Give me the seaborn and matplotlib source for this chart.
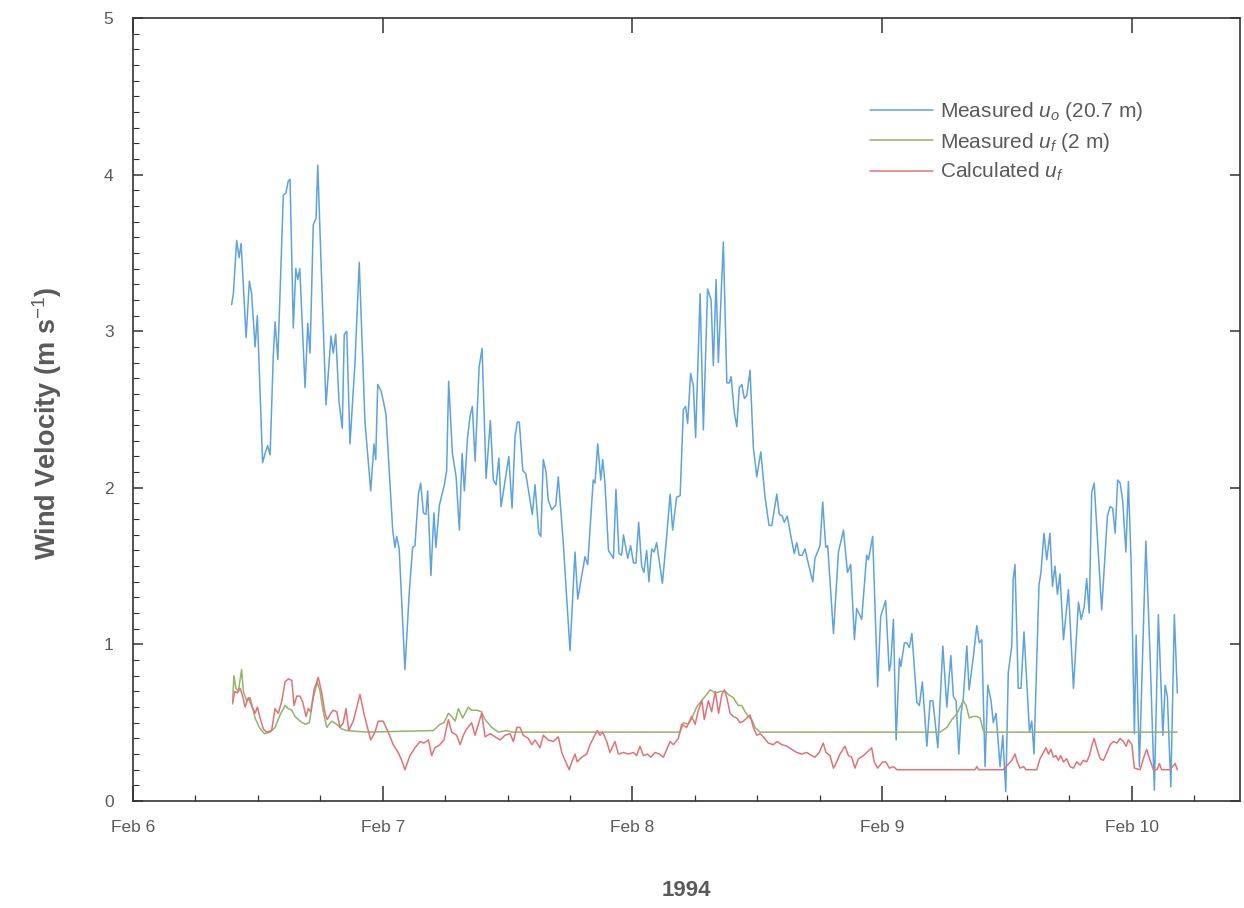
import numpy as np
import pandas as pd
import matplotlib
matplotlib.use("Agg")
import matplotlib.pyplot as plt
import matplotlib.dates as mdates
from matplotlib.ticker import MultipleLocator
from matplotlib.lines import Line2D
import seaborn as sns

# ---------------- data (day of February 1994, value in m/s) ----------------
uo_day = [6.395, 6.402, 6.415, 6.425, 6.433, 6.453, 6.466, 6.475, 6.489, 6.498,
          6.519, 6.529, 6.539, 6.549, 6.562, 6.569, 6.580, 6.602, 6.612, 6.622,
          6.629, 6.642, 6.652, 6.660, 6.668, 6.689, 6.700, 6.709, 6.722, 6.733,
          6.740, 6.756, 6.773, 6.793, 6.802, 6.812, 6.825, 6.838, 6.846, 6.856,
          6.869, 6.889, 6.906, 6.929, 6.952, 6.965, 6.972, 6.980, 6.993, 7.003,
          7.013, 7.040, 7.049, 7.056, 7.066, 7.089, 7.107, 7.120, 7.129, 7.143,
          7.152, 7.163, 7.173, 7.180, 7.193, 7.205, 7.213, 7.227, 7.247, 7.256,
          7.264, 7.279, 7.294, 7.307, 7.318, 7.327, 7.339, 7.350, 7.359, 7.370,
          7.386, 7.398, 7.414, 7.431, 7.443, 7.454, 7.465, 7.474, 7.505, 7.518,
          7.530, 7.539, 7.547, 7.561, 7.573, 7.599, 7.610, 7.625, 7.633, 7.643,
          7.654, 7.663, 7.677, 7.693, 7.703, 7.723, 7.750, 7.770, 7.781, 7.797,
          7.810, 7.821, 7.843, 7.850, 7.861, 7.873, 7.881, 7.890, 7.904, 7.924,
          7.934, 7.946, 7.957, 7.964, 7.981, 7.993, 8.004, 8.014, 8.025, 8.037,
          8.046, 8.057, 8.066, 8.077, 8.087, 8.097, 8.120, 8.137, 8.151, 8.161,
          8.177, 8.191, 8.204, 8.213, 8.221, 8.233, 8.244, 8.253, 8.271, 8.284,
          8.301, 8.315, 8.324, 8.335, 8.344, 8.364, 8.378, 8.388, 8.395, 8.408,
          8.418, 8.428, 8.438, 8.448, 8.458, 8.471, 8.484, 8.498, 8.514, 8.531,
          8.547, 8.558, 8.578, 8.588, 8.600, 8.608, 8.620, 8.631, 8.648, 8.658,
          8.668, 8.680, 8.691, 8.704, 8.722, 8.731, 8.751, 8.762, 8.774, 8.782,
          8.805, 8.825, 8.845, 8.861, 8.874, 8.889, 8.898, 8.918, 8.938, 8.945,
          8.962, 8.982, 8.994, 9.014, 9.028, 9.034, 9.045, 9.056, 9.069, 9.075,
          9.089, 9.099, 9.109, 9.119, 9.139, 9.149, 9.161, 9.179, 9.192, 9.203,
          9.223, 9.243, 9.259, 9.275, 9.285, 9.296, 9.307, 9.316, 9.325, 9.339,
          9.348, 9.365, 9.379, 9.389, 9.399, 9.412, 9.423, 9.436, 9.445, 9.456,
          9.472, 9.483, 9.495, 9.505, 9.519, 9.525, 9.532, 9.545, 9.556, 9.568,
          9.590, 9.599, 9.608, 9.628, 9.636, 9.648, 9.659, 9.672, 9.682, 9.692,
          9.702, 9.712, 9.726, 9.746, 9.766, 9.786, 9.797, 9.809, 9.819, 9.829,
          9.839, 9.849, 9.879, 9.902, 9.913, 9.923, 9.933, 9.943, 9.953, 9.963,
          9.976, 9.986, 9.997, 10.010, 10.017, 10.030, 10.056, 10.073, 10.090, 10.106,
          10.124, 10.133, 10.142, 10.156, 10.170, 10.182]
uo_val = [3.17, 3.24, 3.58, 3.47, 3.56, 2.96, 3.32, 3.24, 2.90, 3.10,
          2.16, 2.22, 2.27, 2.21, 2.85, 3.06, 2.82, 3.87, 3.88, 3.96,
          3.97, 3.02, 3.40, 3.33, 3.40, 2.64, 3.05, 2.86, 3.68, 3.72,
          4.06, 3.30, 2.53, 2.97, 2.86, 2.98, 2.55, 2.38, 2.98, 3.00,
          2.28, 2.80, 3.44, 2.42, 1.98, 2.28, 2.18, 2.66, 2.62, 2.55,
          2.47, 1.73, 1.62, 1.69, 1.61, 0.84, 1.35, 1.62, 1.63, 1.96,
          2.03, 1.84, 1.83, 1.98, 1.44, 1.84, 1.62, 1.89, 2.02, 2.11,
          2.68, 2.22, 2.07, 1.73, 2.22, 1.98, 2.31, 2.46, 2.52, 2.17,
          2.77, 2.89, 2.06, 2.43, 2.05, 2.02, 2.19, 1.88, 2.20, 1.87,
          2.33, 2.42, 2.42, 2.11, 2.09, 1.83, 2.02, 1.71, 1.69, 2.18,
          2.10, 1.92, 1.86, 1.89, 2.07, 1.65, 0.96, 1.59, 1.29, 1.44,
          1.56, 1.51, 2.05, 2.03, 2.28, 2.05, 2.18, 2.03, 1.60, 1.55,
          1.99, 1.58, 1.57, 1.70, 1.55, 1.63, 1.52, 1.52, 1.78, 1.50,
          1.46, 1.60, 1.40, 1.61, 1.59, 1.65, 1.39, 1.69, 1.96, 1.73,
          1.94, 1.95, 2.50, 2.52, 2.41, 2.73, 2.65, 2.32, 3.24, 2.37,
          3.27, 3.20, 2.78, 3.33, 2.80, 3.57, 2.67, 2.67, 2.71, 2.48,
          2.39, 2.64, 2.66, 2.57, 2.59, 2.75, 2.26, 2.07, 2.23, 1.94,
          1.76, 1.76, 1.96, 1.83, 1.82, 1.78, 1.82, 1.72, 1.58, 1.65,
          1.57, 1.57, 1.61, 1.52, 1.40, 1.55, 1.63, 1.91, 1.62, 1.63,
          1.07, 1.59, 1.73, 1.46, 1.51, 1.03, 1.23, 1.16, 1.57, 1.54,
          1.69, 0.73, 1.18, 1.28, 0.83, 0.87, 1.16, 0.39, 0.91, 0.86,
          1.01, 1.01, 0.98, 1.07, 0.63, 0.61, 0.76, 0.35, 0.64, 0.64,
          0.34, 0.99, 0.60, 0.93, 0.67, 0.64, 0.30, 0.56, 0.66, 0.99,
          0.71, 0.92, 1.12, 1.01, 1.03, 0.22, 0.74, 0.64, 0.50, 0.56,
          0.22, 0.42, 0.06, 0.82, 0.99, 1.42, 1.51, 0.72, 0.72, 1.08,
          0.44, 0.51, 0.30, 1.38, 1.46, 1.71, 1.54, 1.71, 1.37, 1.50,
          1.32, 1.45, 1.03, 1.35, 0.72, 1.27, 1.16, 1.24, 1.42, 1.20,
          1.97, 2.03, 1.22, 1.82, 1.88, 1.87, 1.71, 2.05, 2.03, 1.92,
          1.59, 2.04, 1.52, 0.43, 1.06, 0.22, 1.66, 0.92, 0.07, 1.19,
          0.42, 0.74, 0.67, 0.09, 1.19, 0.69]

uf_day = [6.399, 6.404, 6.412, 6.422, 6.435, 6.442, 6.455, 6.469, 6.489, 6.506,
          6.526, 6.549, 6.569, 6.589, 6.609, 6.622, 6.636, 6.649, 6.669, 6.689,
          6.706, 6.722, 6.738, 6.749, 6.762, 6.776, 6.796, 6.816, 6.836, 6.856,
          6.936, 7.203, 7.229, 7.245, 7.263, 7.276, 7.290, 7.303, 7.320, 7.343,
          7.356, 7.376, 7.396, 7.410, 7.437, 7.463, 7.497, 7.517, 8.191, 8.204,
          8.224, 8.244, 8.257, 8.271, 8.292, 8.311, 8.332, 8.352, 8.372, 8.384,
          8.404, 8.424, 8.438, 8.451, 8.464, 8.478, 8.491, 8.511, 9.232, 9.259,
          9.279, 9.296, 9.309, 9.325, 9.336, 9.349, 9.363, 9.379, 9.392, 9.405,
          9.412, 10.181]
uf_val = [0.62, 0.80, 0.72, 0.70, 0.84, 0.70, 0.64, 0.66, 0.53, 0.47,
          0.43, 0.44, 0.47, 0.55, 0.61, 0.59, 0.58, 0.54, 0.51, 0.49,
          0.50, 0.66, 0.76, 0.70, 0.57, 0.47, 0.51, 0.49, 0.46, 0.45,
          0.44, 0.45, 0.49, 0.50, 0.56, 0.54, 0.51, 0.59, 0.53, 0.60,
          0.58, 0.58, 0.57, 0.52, 0.47, 0.44, 0.45, 0.44, 0.44, 0.50,
          0.49, 0.55, 0.60, 0.63, 0.67, 0.71, 0.69, 0.70, 0.70, 0.68,
          0.66, 0.61, 0.61, 0.57, 0.54, 0.52, 0.47, 0.44, 0.44, 0.47,
          0.52, 0.55, 0.59, 0.64, 0.61, 0.53, 0.54, 0.54, 0.53, 0.45,
          0.44, 0.44]

calc_day = [6.399, 6.408, 6.418, 6.429, 6.439, 6.449, 6.462, 6.475, 6.489, 6.498,
            6.509, 6.522, 6.535, 6.555, 6.569, 6.582, 6.596, 6.609, 6.622, 6.636,
            6.645, 6.656, 6.669, 6.680, 6.693, 6.702, 6.712, 6.725, 6.742, 6.756,
            6.769, 6.778, 6.792, 6.802, 6.816, 6.829, 6.842, 6.853, 6.864, 6.882,
            6.909, 6.926, 6.952, 6.969, 6.982, 7.002, 7.022, 7.042, 7.062, 7.076,
            7.089, 7.109, 7.129, 7.149, 7.165, 7.183, 7.196, 7.209, 7.229, 7.245,
            7.263, 7.276, 7.296, 7.310, 7.323, 7.336, 7.356, 7.370, 7.383, 7.396,
            7.410, 7.430, 7.450, 7.470, 7.490, 7.510, 7.523, 7.537, 7.550, 7.563,
            7.583, 7.597, 7.610, 7.630, 7.643, 7.663, 7.683, 7.703, 7.717, 7.730,
            7.747, 7.757, 7.770, 7.779, 7.797, 7.817, 7.830, 7.843, 7.859, 7.870,
            7.881, 7.897, 7.910, 7.930, 7.944, 7.964, 7.984, 8.004, 8.017, 8.030,
            8.044, 8.060, 8.073, 8.091, 8.108, 8.124, 8.151, 8.164, 8.184, 8.197,
            8.217, 8.237, 8.251, 8.264, 8.278, 8.288, 8.304, 8.317, 8.332, 8.345,
            8.358, 8.368, 8.378, 8.391, 8.404, 8.418, 8.431, 8.444, 8.458, 8.471,
            8.484, 8.498, 8.511, 8.524, 8.544, 8.564, 8.580, 8.598, 8.618, 8.638,
            8.658, 8.678, 8.698, 8.718, 8.731, 8.748, 8.764, 8.775, 8.791, 8.805,
            8.818, 8.831, 8.851, 8.865, 8.878, 8.891, 8.905, 8.925, 8.938, 8.958,
            8.968, 8.982, 9.002, 9.015, 9.029, 9.045, 9.059, 9.372, 9.379, 9.386,
            9.485, 9.519, 9.532, 9.541, 9.552, 9.566, 9.576, 9.619, 9.632, 9.646,
            9.656, 9.666, 9.676, 9.686, 9.696, 9.706, 9.715, 9.726, 9.739, 9.752,
            9.766, 9.779, 9.793, 9.806, 9.819, 9.830, 9.839, 9.849, 9.859, 9.873,
            9.886, 9.900, 9.913, 9.926, 9.940, 9.953, 9.966, 9.977, 9.986, 10.000,
            10.010, 10.033, 10.046, 10.059, 10.073, 10.086, 10.101, 10.110, 10.119, 10.153,
            10.173, 10.182]
calc_val = [0.63, 0.70, 0.69, 0.72, 0.67, 0.60, 0.66, 0.61, 0.56, 0.60,
            0.53, 0.46, 0.44, 0.45, 0.59, 0.56, 0.64, 0.76, 0.78, 0.77,
            0.61, 0.67, 0.67, 0.63, 0.54, 0.59, 0.57, 0.71, 0.79, 0.69,
            0.56, 0.52, 0.56, 0.58, 0.57, 0.47, 0.50, 0.59, 0.45, 0.51,
            0.68, 0.55, 0.39, 0.44, 0.51, 0.51, 0.44, 0.36, 0.31, 0.26,
            0.20, 0.29, 0.34, 0.38, 0.37, 0.39, 0.29, 0.34, 0.36, 0.39,
            0.52, 0.44, 0.42, 0.36, 0.42, 0.46, 0.50, 0.42, 0.49, 0.56,
            0.41, 0.43, 0.41, 0.39, 0.42, 0.43, 0.38, 0.47, 0.47, 0.42,
            0.40, 0.36, 0.39, 0.34, 0.42, 0.39, 0.38, 0.41, 0.31, 0.26,
            0.20, 0.25, 0.30, 0.25, 0.28, 0.30, 0.36, 0.40, 0.45, 0.42,
            0.44, 0.38, 0.31, 0.38, 0.30, 0.31, 0.30, 0.31, 0.29, 0.35,
            0.29, 0.30, 0.28, 0.31, 0.30, 0.28, 0.38, 0.36, 0.40, 0.49,
            0.47, 0.54, 0.49, 0.58, 0.64, 0.52, 0.64, 0.57, 0.70, 0.56,
            0.68, 0.71, 0.66, 0.56, 0.54, 0.53, 0.50, 0.51, 0.53, 0.55,
            0.47, 0.42, 0.43, 0.41, 0.37, 0.36, 0.38, 0.36, 0.35, 0.33,
            0.31, 0.30, 0.31, 0.29, 0.28, 0.31, 0.37, 0.31, 0.29, 0.21,
            0.25, 0.30, 0.35, 0.29, 0.28, 0.21, 0.27, 0.29, 0.31, 0.34,
            0.25, 0.21, 0.25, 0.25, 0.21, 0.22, 0.20, 0.20, 0.22, 0.20,
            0.20, 0.26, 0.30, 0.25, 0.21, 0.22, 0.20, 0.20, 0.27, 0.31,
            0.34, 0.30, 0.33, 0.28, 0.29, 0.26, 0.29, 0.25, 0.27, 0.22,
            0.21, 0.25, 0.23, 0.26, 0.25, 0.29, 0.35, 0.40, 0.34, 0.27,
            0.26, 0.31, 0.36, 0.38, 0.37, 0.40, 0.38, 0.35, 0.39, 0.36,
            0.21, 0.20, 0.27, 0.33, 0.26, 0.20, 0.20, 0.24, 0.20, 0.20,
            0.24, 0.20]

series_labels = [r"Measured $u_o$ (20.7 m)", r"Measured $u_f$ (2 m)", r"Calculated $u_f$"]
series_colors = ["#5ea3dc", "#93b46a", "#e2727a"]
y_ticks = [0, 1, 2, 3, 4, 5]

# ---------------- build frame ----------------
base = pd.Timestamp("1994-02-01")
def to_time(days):
    return base + pd.to_timedelta(np.asarray(days) - 1.0, unit="D")

frames = []
for lab, d, v in zip(series_labels, [uo_day, uf_day, calc_day], [uo_val, uf_val, calc_val]):
    frames.append(pd.DataFrame({"time": to_time(d), "value": v, "series": lab}))
df = pd.concat(frames, ignore_index=True)

# ---------------- style ----------------
sns.set_style("ticks")
plt.rcParams["font.family"] = ["Liberation Sans", "DejaVu Sans"]
plt.rcParams["mathtext.fontset"] = "custom"
plt.rcParams["mathtext.rm"] = "Liberation Sans"
plt.rcParams["mathtext.it"] = "Liberation Sans:italic"
plt.rcParams["mathtext.bf"] = "Liberation Sans:bold"

grey = "#5a5a5a"
fig = plt.figure(figsize=(12.44, 9.08), dpi=100)
ax = fig.add_axes([0.1069, 0.1178, 0.8899, 0.8624])

sns.lineplot(data=df, x="time", y="value", hue="series", hue_order=series_labels,
             palette=dict(zip(series_labels, series_colors)), estimator=None,
             sort=False, linewidth=1.1, ax=ax, legend=False)

ax.set_xlim(to_time([6.0])[0], to_time([10.433])[0])
ax.set_ylim(0, 5)

ax.xaxis.set_major_locator(mdates.DayLocator())
ax.xaxis.set_major_formatter(mdates.DateFormatter("%b %-d"))
ax.xaxis.set_minor_locator(mdates.HourLocator(byhour=[6, 12, 18]))
ax.set_yticks(y_ticks)
ax.yaxis.set_minor_locator(MultipleLocator(0.1))

for s in ax.spines.values():
    s.set_visible(True)
    s.set_color("#333333")
    s.set_linewidth(1.2)

ax.tick_params(which="both", direction="in", top=True, right=True, color="#333333",
               labelcolor=grey, labelsize=12.5)
ax.tick_params(axis="x", which="major", length=11, width=1.1, pad=14)
ax.tick_params(axis="x", which="minor", length=4, width=0.9, top=False)
ax.tick_params(axis="y", which="major", length=7, width=1.1, pad=14)
ax.tick_params(axis="y", which="minor", length=4, width=0.8, right=False)

ax.set_xlabel("1994", fontsize=16, fontweight="bold", color=grey)
ax.xaxis.set_label_coords(0.5, -0.101)
ax.set_ylabel(r"Wind Velocity (m s$^{-1}$)", fontsize=19.5, fontweight="bold", color=grey)
ax.yaxis.set_label_coords(-0.062, 0.483)

handles = [Line2D([], [], color=c, lw=1.1) for c in series_colors]
ax.legend(handles, series_labels, loc="upper left", bbox_to_anchor=(0.666, 0.895),
          frameon=False, fontsize=15, handlelength=3.0, handletextpad=0.35,
          labelspacing=0.36, borderpad=0, borderaxespad=0, labelcolor=grey)

fig.savefig("out.png", dpi=100, facecolor="white")
